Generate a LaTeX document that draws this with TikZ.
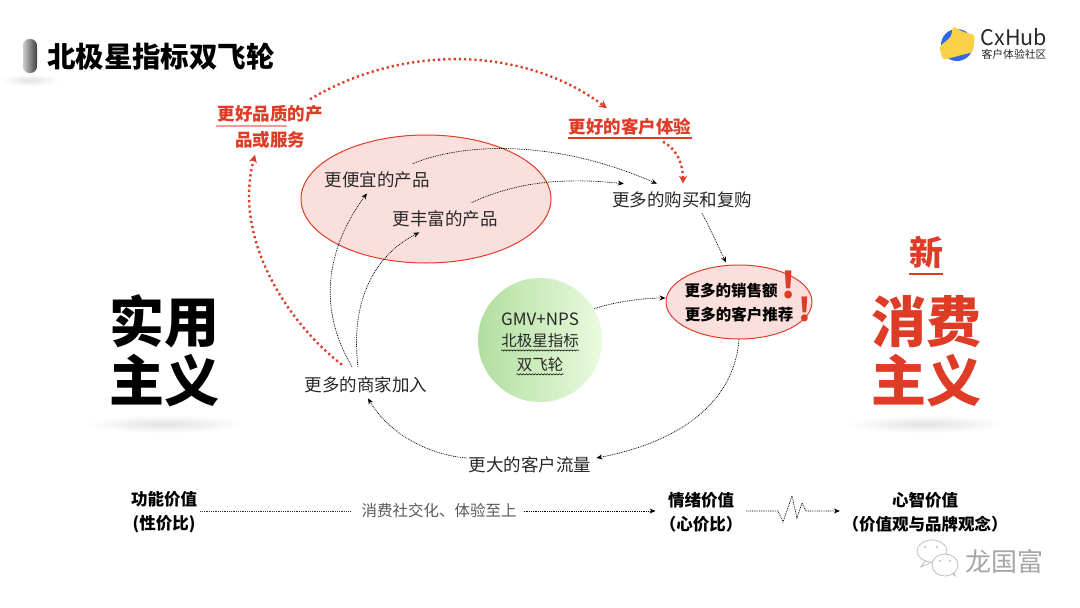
\documentclass[tikz,border=0pt]{standalone}
\usepackage{fontspec}
\setmainfont{Noto Sans CJK SC}
\usetikzlibrary{arrows.meta, calc, shapes.geometric, decorations.pathmorphing}
\definecolor{hubred}{RGB}{222, 60, 38}
\definecolor{hubpink}{RGB}{251, 223, 220}
\definecolor{hubink}{RGB}{40, 40, 40}
\definecolor{hubgreen}{RGB}{178, 222, 160}
\definecolor{hublime}{RGB}{234, 251, 222}
\definecolor{hubblue}{RGB}{46, 104, 232}
\definecolor{hubyellow}{RGB}{250, 208, 72}
\begin{document}
\begin{tikzpicture}[
    x=1pt, y=-1pt,
    plain/.style={inner sep=0pt, font=\fontsize{17.5}{22}\selectfont, text=hubink},
    wheeltext/.style={inner sep=0pt, font=\fontsize{15.5}{20}\selectfont, text=hubink},
    salestext/.style={inner sep=0pt, font=\fontsize{15.5}{20}\selectfont\bfseries, text=black},
    redlabel/.style={inner sep=0pt, align=center, font=\fontsize{17.5}{26}\selectfont\bfseries, text=hubred},
    valuebox/.style={inner sep=0pt, align=center, font=\fontsize{16.5}{24}\selectfont\bfseries, text=black},
    bigword/.style={inner sep=0pt, align=center, font=\fontsize{55}{59}\selectfont\bfseries},
    cloud/.style={draw=hubred, line width=1pt, fill=hubpink, ellipse},
    thinflow/.style={line width=.7pt, dash pattern=on .9pt off .9pt, -{Stealth[length=6pt, width=5pt]}, black},
    redflow/.style={line width=2.4pt, dash pattern=on 2.2pt off 3pt, -{Stealth[length=8pt, width=8pt]}, hubred},
    floorshade/.style={inner color=black!11, outer color=white},
    wavyline/.style={line width=.5pt, decorate, decoration={snake, amplitude=.6pt, segment length=3pt}},
    chatline/.style={black!25, line width=.8pt},
]
    \useasboundingbox (0,0) rectangle (1080,608);
    \fill[white] (0,0) rectangle (1080,608);

    \shade[floorshade] (30,80) ellipse [x radius=30, y radius=6];
    \shade[floorshade] (165,424) ellipse [x radius=80, y radius=9];
    \shade[floorshade] (926,424) ellipse [x radius=80, y radius=9];

    \shade[left color=black!20, right color=black!75, rounded corners=6.5pt] (23,39) rectangle (37,73);
    \node[inner sep=0pt, font=\fontsize{28.5}{30}\selectfont\bfseries, text=black] (title) at (161,57) {北极星指标双飞轮};

    \fill[hubblue] (957,45) circle (16);
    \fill[hubyellow, rounded corners=3pt] (953,26) -- (963,32) -- (975,35) -- (973,52) -- (943,60) -- (939,47) -- (951,37) -- cycle;
    \node[inner sep=0pt, font=\fontsize{21.5}{22}\selectfont, text=hubink] (hub) at (1014,37) {CxHub};
    \node[inner sep=0pt, font=\fontsize{10.8}{12}\selectfont, text=hubink] (hubsub) at (1014,54) {客户体验社区};

    \node[cloud, minimum width=250pt, minimum height=128pt, inner sep=0pt] (goods) at (426,199) {};
    \node[cloud, minimum width=146pt, minimum height=74pt, inner sep=0pt] (sales) at (739,302) {};
    \shade[left color=hubgreen, right color=hublime] (540,340) circle (62);
    \node[circle, minimum size=124pt, inner sep=0pt] (wheel) at (540,340) {};

    \node[redlabel] (quality) at (270,127) {更好品质的产\\品或服务\hspace{4pt}};
    \node[redlabel] (better) at (630,127) {更好的客户体验};
    \draw[hubred!50, line width=1.2pt] (216,126) -- (287,126);
    \draw[hubred, line width=1.2pt] (568,138) -- (692,138);

    \node[plain] (cheap) at (377,180) {更便宜的产品};
    \node[plain] (rich) at (445,219) {更丰富的产品};
    \node[plain] (rebuy) at (682,200) {更多的购买和复购};
    \node[plain] (seller) at (366,385) {更多的商家加入};
    \node[plain] (traffic) at (530,465) {更大的客户流量};

    \node[salestext] (sale) at (731,291) {更多的销售额};
    \node[salestext] (refer) at (739,315) {更多的客户推荐};
    \node[inner sep=0pt, font=\fontsize{36}{40}\selectfont\bfseries, text=hubred] (bangone) at (789,285) {!};
    \node[inner sep=0pt, font=\fontsize{32}{36}\selectfont\bfseries, text=hubred] (bangtwo) at (805,309) {!};

    \node[inner sep=0pt, font=\fontsize{17}{20}\selectfont, text=hubink] (gmv) at (540,319) {GMV+NPS};
    \node[wheeltext] (star) at (540,341) {北极星指标};
    \node[wheeltext] (fly) at (540,365) {双飞轮};
    \draw[wavyline] ($(star.south west)+(0,2)$) -- ($(star.south east)+(0,2)$);
    \draw[wavyline] ($(fly.south west)+(0,2)$) -- ($(fly.south east)+(0,2)$);

    \node[bigword, text=black] (useful) at (164,351) {实用\\主义};
    \node[inner sep=0pt, font=\fontsize{34}{36}\selectfont\bfseries, text=hubred] (newword) at (926,252) {新};
    \draw[hubred, line width=1.2pt] (909,274) -- (943,274);
    \node[bigword, text=hubred] (consume) at (926,351) {消费\\主义};

    \node[valuebox] (func) at (164,512) {功能价值\\(性价比)};
    \node[valuebox] (mood) at (701,512) {情绪价值\\（心价比）};
    \node[valuebox] (mind) at (925,512) {心智价值\\（价值观与品牌观念）};
    \node[inner sep=0pt, font=\fontsize{15.5}{18}\selectfont, text=black!65] (social) at (439,511) {消费社交化、体验至上};

    \draw[thinflow] ($(cheap.north east)+(-17,-8)$) .. controls (455,146) and (545,135) .. ($(rebuy.north)+(-25,-8)$);
    \draw[thinflow] ($(rich.north east)+(-26,-8)$) .. controls (520,180) and (570,178) .. ($(rebuy.north west)+(12,-8)$);
    \draw[thinflow] ($(seller.north)+(-14,-10)$) .. controls (318,310) and (325,250) .. ($(cheap.south)+(-10,5)$);
    \draw[thinflow] ($(seller.north)+(-8,-10)$) .. controls (350,300) and (375,255) .. ($(rich.south west)+(27,5)$);
    \draw[thinflow] ($(rebuy.south)+(20,5)$) .. controls (710,228) and (720,250) .. ($(sales.north)+(-13,-2)$);
    \draw[thinflow] (wheel.30) .. controls (610,303) and (640,298) .. ($(sales.west)+(0,-4)$);
    \draw[thinflow] (sales.south) .. controls (735,395) and (690,440) .. ($(traffic.east)+(5,-7)$);
    \draw[thinflow] ($(traffic.west)+(-2,-7)$) .. controls (430,455) and (390,435) .. ($(seller.south)+(2,5)$);
    \draw[redflow] ($(seller.north)+(-24,-12)$) .. controls (290,325) and (232,240) .. ($(quality.south)+(-15,6)$);
    \draw[redflow] ($(quality.north)+(40,-6)$) .. controls (410,40) and (530,50) .. ($(better.north)+(-23,-10)$);
    \draw[redflow] ($(better.south)+(33,6)$) .. controls (678,150) and (683,165) .. ($(rebuy.north)+(1,-8)$);

    \draw[line width=.7pt, dash pattern=on .9pt off .9pt, black!80] ($(func.east)+(3,-1)$) -- ($(social.west)+(-10,0)$);
    \draw[thinflow] ($(social.east)+(7,0)$) -- ($(mood.west)+(-4,-1)$);
    \draw[thinflow] ($(mood.east)+(4,-1)$) -- (778,511) -- (783,522) -- (792,496) -- (797,518) -- (802,503) -- (806,511) -- ($(mind.west)+(-2.5,-1)$);

    \draw[chatline, fill=white] (926,560) -- (921,567) -- (932,562);
    \draw[chatline, fill=white] (932,551) ellipse [x radius=15, y radius=11];
    \draw[chatline, fill=white] (950,572) -- (955,576) -- (953,568);
    \draw[chatline, fill=white] (945,565) ellipse [x radius=13, y radius=11];
    \fill[black!25] (925,547) circle (1.2) (937,547) circle (1.2) (940,561) circle (1.2) (950,561) circle (1.2);
    \node[inner sep=0pt, font=\fontsize{26}{27}\selectfont, text=black!35] (mark) at (1004,562) {龙国富};
\end{tikzpicture}
\end{document}
